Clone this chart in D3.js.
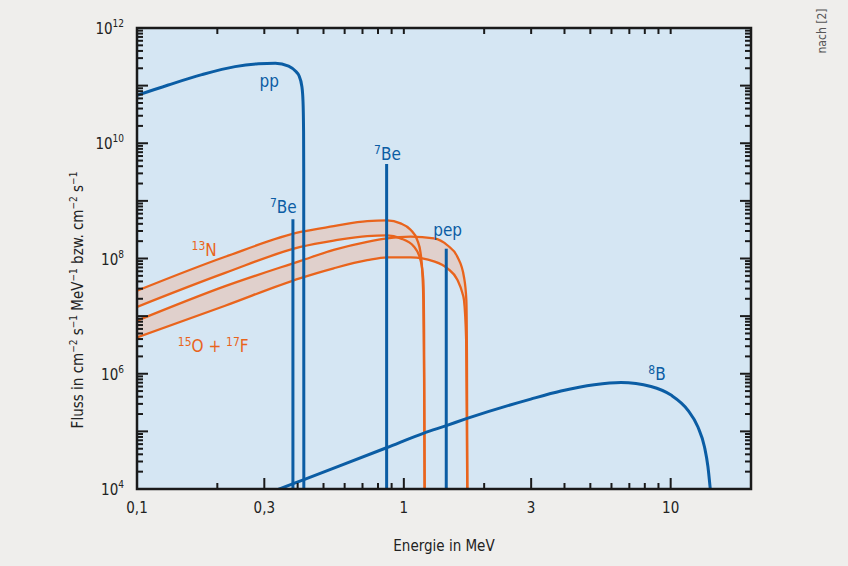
<!DOCTYPE html>
<html>
<head>
<meta charset="utf-8">
<script src="https://cdn.jsdelivr.net/npm/d3@7"></script>
<style>
  body { margin: 0; background: #efeeec; }
  svg { display: block; font-family: "Liberation Sans Narrow", "DejaVu Sans Condensed", sans-serif; }
</style>
</head>
<body>
<svg id="chart" width="848" height="566"></svg>
<script>
// Energies in MeV, fluxes as log10 of the value.
const xTickValues = [0.1, 0.3, 1, 3, 10];
const xTickLabels = ["0,1", "0,3", "1", "3", "10"];
const yLabelExponents = [4, 6, 8, 10, 12];

const ppEnergy = [0.1, 0.131, 0.175, 0.233, 0.285, 0.33, 0.37, 0.395, 0.404, 0.415, 0.419, 0.421, 0.4215, 0.422];
const ppLogFlux = [10.83, 11.01, 11.19, 11.33, 11.38, 11.39, 11.34, 11.24, 11.18, 10.98, 10.72, 10.2, 9.5, 3.0];

const b8Energy = [0.3, 0.342, 0.42, 0.866, 1.189, 1.443, 1.715, 2.99, 3.88, 5.17, 6.51, 8.44, 10.03, 11.59, 12.64, 13.39, 13.79, 14.06, 14.31];
const b8LogFlux = [3.9, 4.0, 4.16, 4.72, 4.97, 5.10, 5.22, 5.56, 5.70, 5.81, 5.85, 5.78, 5.63, 5.37, 5.08, 4.73, 4.39, 4.02, 3.64];

const n13UpperEnergy = [0.1, 0.214, 0.41, 0.546, 0.729, 0.866, 0.972, 1.06, 1.123, 1.155, 1.173, 1.183, 1.191, 1.198];
const n13UpperLogFlux = [7.44, 8.03, 8.46, 8.56, 8.65, 8.66, 8.61, 8.5, 8.32, 8.1, 7.75, 7.28, 5.89, 3.46];
const n13LowerEnergy = [0.1, 0.214, 0.41, 0.546, 0.729, 0.866, 0.972, 1.09, 1.155, 1.183, 1.191, 1.198];
const n13LowerLogFlux = [7.16, 7.75, 8.2, 8.31, 8.39, 8.4, 8.35, 8.21, 7.97, 7.63, 6.76, 3.46];

const o15UpperEnergy = [0.1, 0.214, 0.41, 0.546, 0.729, 0.866, 1.06, 1.296, 1.456, 1.587, 1.68, 1.715, 1.724, 1.732];
const o15UpperLogFlux = [6.92, 7.52, 7.96, 8.15, 8.29, 8.35, 8.38, 8.35, 8.23, 8.03, 7.68, 7.28, 6.24, 3.46];
const o15LowerEnergy = [0.1, 0.214, 0.41, 0.546, 0.729, 0.866, 1.06, 1.296, 1.456, 1.587, 1.657, 1.68, 1.712, 1.732];
const o15LowerLogFlux = [6.63, 7.18, 7.66, 7.83, 7.97, 8.02, 8.02, 7.95, 7.83, 7.63, 7.4, 7.28, 6.59, 3.46];

// Line spectra: 7Be (two lines) and pep.
const lineEnergy = [0.384, 0.862, 1.442];
const lineLogFlux = [8.68, 9.64, 8.17];

const blue = "#0b5da4";
const orange = "#e9641c";
const bandFill = "#e0d0cc";

const svg = d3.select("#chart");
const plotLeft = 137, plotRight = 751, plotTop = 28, plotBottom = 489;

const x = d3.scaleLog().domain([0.1, 20]).range([plotLeft, plotRight]);
const y = d3.scaleLog().domain([1e4, 1e12]).range([plotBottom, plotTop]);

function zip(es, ls) {
    return es.map((e, i) => [e, Math.pow(10, ls[i])]);
}

const line = d3.line()
    .x(d => x(d[0]))
    .y(d => y(d[1]))
    .curve(d3.curveMonotoneX);

// Plot background.
svg.append("rect")
    .attr("x", plotLeft).attr("y", plotTop)
    .attr("width", plotRight - plotLeft).attr("height", plotBottom - plotTop)
    .attr("fill", "#d5e6f3");

svg.append("clipPath").attr("id", "clip")
    .append("rect")
    .attr("x", plotLeft).attr("y", plotTop)
    .attr("width", plotRight - plotLeft).attr("height", plotBottom - plotTop);

const plot = svg.append("g").attr("clip-path", "url(#clip)");

// CNO bands.
const bands = [
    [zip(n13UpperEnergy, n13UpperLogFlux), zip(n13LowerEnergy, n13LowerLogFlux)],
    [zip(o15UpperEnergy, o15UpperLogFlux), zip(o15LowerEnergy, o15LowerLogFlux)]
];

bands.forEach(function(b) {
    let upperPath = line(b[0]);
    let lowerPath = line(b[1].slice().reverse());
    plot.append("path")
        .attr("d", upperPath + "L" + lowerPath.slice(1) + "Z")
        .attr("fill", bandFill);
});

bands.forEach(function(b) {
    b.forEach(function(pts) {
        plot.append("path")
            .attr("d", line(pts))
            .attr("fill", "none")
            .attr("stroke", orange)
            .attr("stroke-width", 2.3);
    });
});

// 8B and pp continua.
[zip(b8Energy, b8LogFlux), zip(ppEnergy, ppLogFlux)].forEach(function(pts) {
    plot.append("path")
        .attr("d", line(pts))
        .attr("fill", "none")
        .attr("stroke", blue)
        .attr("stroke-width", 3);
});

// Line spectra.
plot.selectAll(".spec-line")
    .data(lineEnergy)
    .join("line")
    .attr("class", "spec-line")
    .attr("x1", d => x(d)).attr("x2", d => x(d))
    .attr("y1", (d, i) => y(Math.pow(10, lineLogFlux[i])))
    .attr("y2", plotBottom)
    .attr("stroke", blue)
    .attr("stroke-width", 3);

// Ticks (inward on all four sides).
const xTicks = x.ticks().filter(d => d > 0.1 && d < 20);
const yTicks = y.ticks().filter(d => d > 1e4 && d < 1e12);
const isMajorX = d => xTickValues.some(v => Math.abs(v - d) < 1e-9);
const isMajorY = d => Math.abs(Math.log10(d) - Math.round(Math.log10(d))) < 1e-9;

const ticks = svg.append("g").attr("stroke", "#1a1a1a").attr("stroke-width", 2);

ticks.selectAll(".xb").data(xTicks).join("line")
    .attr("x1", d => x(d)).attr("x2", d => x(d))
    .attr("y1", plotBottom).attr("y2", d => plotBottom - (isMajorX(d) ? 11 : 6));
ticks.selectAll(".xt").data(xTicks).join("line")
    .attr("x1", d => x(d)).attr("x2", d => x(d))
    .attr("y1", plotTop).attr("y2", plotTop + 6);
ticks.selectAll(".yl").data(yTicks).join("line")
    .attr("y1", d => y(d)).attr("y2", d => y(d))
    .attr("x1", plotLeft).attr("x2", d => plotLeft + (isMajorY(d) ? 11 : 6));
ticks.selectAll(".yr").data(yTicks).join("line")
    .attr("y1", d => y(d)).attr("y2", d => y(d))
    .attr("x1", plotRight).attr("x2", d => plotRight - (isMajorY(d) ? 11 : 6));

// Frame.
svg.append("rect")
    .attr("x", plotLeft).attr("y", plotTop)
    .attr("width", plotRight - plotLeft).attr("height", plotBottom - plotTop)
    .attr("fill", "none")
    .attr("stroke", "#1a1a1a")
    .attr("stroke-width", 2.5);

// Tick labels.
svg.selectAll(".xlab").data(xTickValues).join("text")
    .attr("x", d => x(d))
    .attr("y", 513)
    .attr("text-anchor", "middle")
    .attr("font-size", 15)
    .attr("fill", "#222")
    .text((d, i) => xTickLabels[i]);

const yLab = svg.selectAll(".ylab").data(yLabelExponents).join("text")
    .attr("x", plotLeft - 13)
    .attr("y", d => y(Math.pow(10, d)))
    .attr("dy", "0.4em")
    .attr("text-anchor", "end")
    .attr("font-size", 15)
    .attr("fill", "#222");
yLab.append("tspan").text("10");
yLab.append("tspan").attr("font-size", 10).attr("dy", -7).text(d => d);

// Text helper for labels with superscripts: parts = [[text, isSup], ...]
function richText(g, parts, supSize, rise) {
    let shifted = false;
    parts.forEach(function(p) {
        let t = g.append("tspan").text(p[0]);
        if (p[1]) {
            t.attr("font-size", supSize);
            if (!shifted) { t.attr("dy", -rise); shifted = true; }
        } else if (shifted) {
            t.attr("dy", rise);
            shifted = false;
        }
    });
}

// Axis titles.
svg.append("text")
    .attr("x", (plotLeft + plotRight) / 2)
    .attr("y", 551)
    .attr("text-anchor", "middle")
    .attr("font-size", 15)
    .attr("fill", "#222")
    .text("Energie in MeV");

const yTitle = svg.append("text")
    .attr("transform", "translate(83," + 300 + ") rotate(-90)")
    .attr("text-anchor", "middle")
    .attr("font-size", 15)
    .attr("fill", "#222");
richText(yTitle, [["Fluss in cm", false], ["\u22122", true], [" s", false], ["\u22121", true],
    [" MeV", false], ["\u22121", true], [" bzw. cm", false], ["\u22122", true], [" s", false], ["\u22121", true]], 10, 6);

svg.append("text")
    .attr("transform", "translate(826,31) rotate(-90)")
    .attr("text-anchor", "middle")
    .attr("font-size", 12)
    .attr("fill", "#555")
    .text("nach [2]");

// Series labels, anchored in data coordinates.
const seriesLabels = [
    { parts: [["pp", false]], e: 0.313, f: 10.98, color: blue },
    { parts: [["7", true], ["Be", false]], e: 0.3534, f: 8.79, color: blue },
    { parts: [["7", true], ["Be", false]], e: 0.868, f: 9.71, color: blue },
    { parts: [["pep", false]], e: 1.459, f: 8.39, color: blue },
    { parts: [["8", true], ["B", false]], e: 8.89, f: 5.89, color: blue },
    { parts: [["13", true], ["N", false]], e: 0.1785, f: 8.04, color: orange },
    { parts: [["15", true], ["O + ", false], ["17", true], ["F", false]], e: 0.193, f: 6.38, color: orange }
];

seriesLabels.forEach(function(l) {
    let t = svg.append("text")
        .attr("x", x(l.e))
        .attr("y", y(Math.pow(10, l.f)))
        .attr("text-anchor", "middle")
        .attr("font-size", 17)
        .attr("fill", l.color);
    richText(t, l.parts, 12, 6);
});
</script>
</body>
</html>
